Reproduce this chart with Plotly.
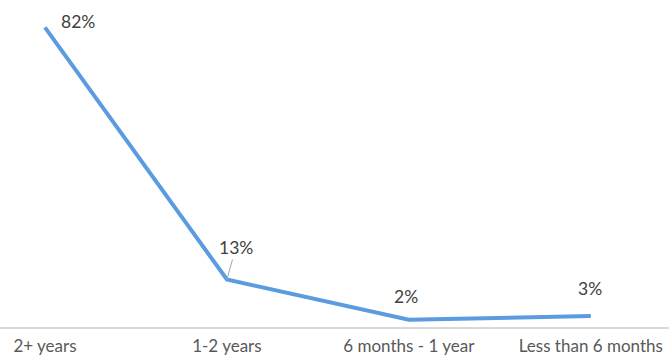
import plotly.graph_objects as go

categories = ["2+ years", "1-2 years", "6 months - 1 year", "Less than 6 months"]
values = [82, 13, 2, 3]
labels = ["82%", "13%", "2%", "3%"]
label_offsets = [(33, -6), (9, -32), (-3, -23), (-1, -28)]
leader = [False, True, False, False]

FONT = "Lato, Open Sans, Liberation Sans, sans-serif"

fig = go.Figure()
fig.add_trace(go.Scatter(
    x=list(range(len(categories))), y=values, mode="lines",
    line=dict(color="#5B9BE0", width=4), hoverinfo="skip"))

for i, (v, lab) in enumerate(zip(values, labels)):
    ax, ay = label_offsets[i]
    if leader[i]:
        fig.add_annotation(
            x=i, y=v, text=lab, ax=ax, ay=ay, xref="x", yref="y",
            showarrow=True, arrowhead=0, arrowwidth=1, arrowcolor="#a6a6a6",
            standoff=0, startstandoff=0,
            font=dict(family=FONT, size=17.5, color="#404040"))
    else:
        fig.add_annotation(
            x=i, y=v, text=lab, xshift=ax, yshift=-ay, xref="x", yref="y",
            showarrow=False,
            font=dict(family=FONT, size=17.5, color="#404040"))

fig.update_layout(
    width=669, height=360, margin=dict(l=0, r=0, t=0, b=33),
    plot_bgcolor="white", paper_bgcolor="white", showlegend=False,
    xaxis=dict(tickmode="array", tickvals=list(range(len(categories))), ticktext=categories,
               range=[-0.247, 3.43], showgrid=False, zeroline=False, automargin=False,
               showline=True, linecolor="#d9d9d9", linewidth=1.5,
               ticks="", ticklabelstandoff=3,
               tickfont=dict(family=FONT, size=17, color="#595959")),
    yaxis=dict(range=[0, 89.5], visible=False, showgrid=False, zeroline=False, automargin=False),
)
fig.write_html("out.html")
